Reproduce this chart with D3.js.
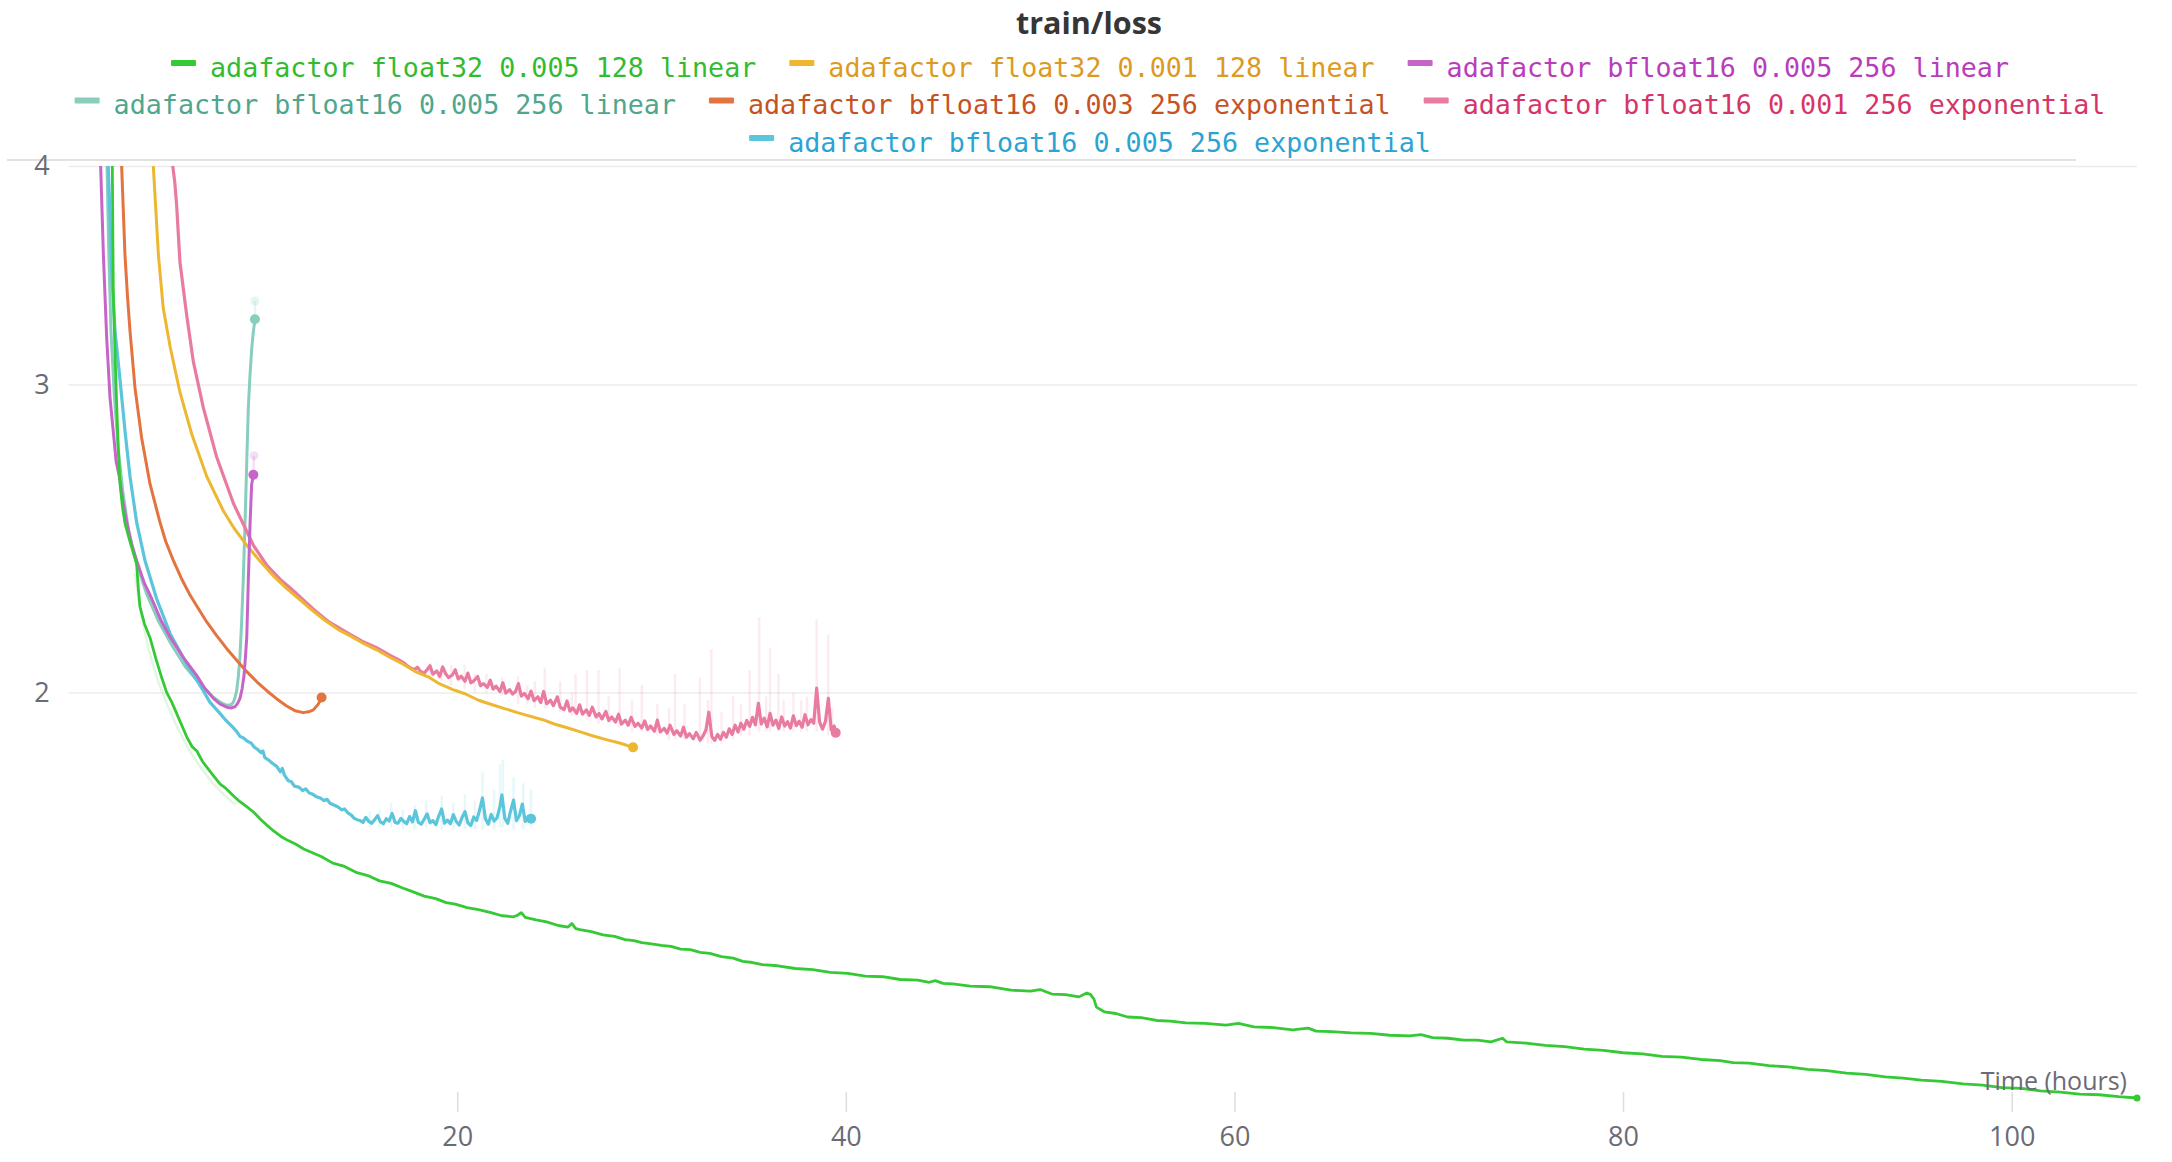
<!DOCTYPE html>
<html><head><meta charset="utf-8">
<script src="https://d3js.org/d3.v7.min.js"></script>
<style>body{margin:0;background:#fff;} svg{display:block;}</style>
</head><body>
<svg id="chart" width="2172" height="1162"></svg>
<script>
const chartTitle = "train/loss";
const xLabel = "Time (hours)";
const seriesNames = [
  "adafactor float32 0.005 128 linear",
  "adafactor float32 0.001 128 linear",
  "adafactor bfloat16 0.005 256 linear",
  "adafactor bfloat16 0.005 256 linear",
  "adafactor bfloat16 0.003 256 exponential",
  "adafactor bfloat16 0.001 256 exponential",
  "adafactor bfloat16 0.005 256 exponential"
];
const lineColors = ["#35c935", "#edb732", "#c565c7", "#87cebf", "#e4743f", "#e87b9f", "#5bc5db"];
const textColors = ["#32bb32", "#dc9a1e", "#b83dbb", "#4fa68e", "#c6531f", "#d63468", "#2ba3d3"];
const xTicks = [20, 40, 60, 80, 100];
const yTicks = [2, 3, 4];
const legendRows = [[0, 1, 2], [3, 4, 5], [6]];
const drawOrder = [3, 5, 1, 4, 6, 2, 0];

// [hours, loss]
const greenRun = [[2.18,4.40],[2.25,4.00],[2.30,3.39],[2.40,3.10],[2.48,2.91],[2.56,2.75],[2.65,2.63],[2.78,2.55],[2.90,2.50],[3.16,2.44],[3.35,2.40],[3.50,2.37],[3.58,2.30],[3.67,2.24],[3.90,2.19],[4.19,2.15],[4.50,2.09],[4.79,2.04],[5.05,2.00],[5.31,1.975],[5.70,1.93],[6.08,1.887],[6.35,1.863],[6.60,1.852],[6.90,1.826],[7.20,1.808],[7.48,1.791],[7.80,1.773],[8.10,1.763],[8.41,1.749],[8.80,1.733],[9.15,1.722],[9.54,1.708],[9.90,1.692],[10.20,1.680],[10.55,1.667],[10.93,1.655],[11.30,1.646],[11.70,1.638],[12.10,1.628],[12.55,1.620],[13.00,1.612],[13.60,1.598],[14.20,1.591],[14.84,1.578],[15.40,1.572],[16.00,1.561],[16.60,1.556],[17.16,1.547],[17.70,1.539],[18.30,1.530],[18.90,1.525],[19.43,1.517],[19.90,1.514],[20.50,1.507],[21.10,1.503],[21.74,1.497],[22.30,1.491],[22.90,1.489],[23.10,1.492],[23.30,1.497],[23.50,1.488],[24.06,1.483],[24.60,1.479],[25.20,1.472],[25.70,1.469],[25.90,1.476],[26.10,1.466],[26.32,1.464],[26.90,1.460],[27.50,1.454],[28.10,1.451],[28.64,1.445],[29.10,1.443],[29.50,1.439],[30.00,1.437],[30.50,1.434],[31.00,1.432],[31.50,1.427],[32.00,1.426],[32.50,1.421],[33.00,1.419],[33.60,1.413],[34.20,1.410],[34.70,1.404],[35.20,1.402],[35.70,1.398],[36.50,1.396],[37.40,1.391],[38.30,1.389],[39.20,1.384],[40.10,1.382],[41.00,1.377],[41.90,1.376],[42.80,1.371],[43.70,1.370],[44.30,1.366],[44.60,1.369],[45.00,1.364],[45.50,1.363],[46.40,1.359],[47.40,1.358],[48.50,1.352],[49.50,1.350],[50.00,1.353],[50.60,1.345],[51.30,1.344],[52.00,1.340],[52.40,1.347],[52.60,1.344],[52.77,1.336],[52.90,1.322],[53.30,1.314],[53.90,1.311],[54.50,1.305],[55.20,1.304],[56.00,1.299],[56.70,1.298],[57.50,1.295],[58.50,1.294],[59.57,1.291],[60.20,1.294],[61.00,1.288],[62.00,1.287],[63.00,1.283],[63.80,1.286],[64.20,1.281],[65.00,1.280],[66.00,1.278],[67.00,1.277],[68.00,1.274],[69.00,1.273],[69.60,1.275],[70.20,1.270],[71.00,1.269],[71.80,1.266],[72.50,1.266],[73.20,1.263],[73.80,1.269],[74.00,1.263],[75.00,1.261],[76.00,1.257],[77.00,1.255],[78.00,1.251],[79.00,1.249],[80.00,1.245],[81.00,1.243],[82.00,1.239],[83.00,1.238],[84.00,1.234],[85.00,1.232],[85.66,1.229],[86.50,1.228],[87.50,1.224],[88.50,1.222],[89.50,1.218],[90.50,1.216],[91.50,1.212],[92.50,1.210],[93.50,1.206],[94.40,1.204],[95.35,1.201],[96.40,1.199],[97.50,1.195],[98.50,1.193],[99.50,1.189],[100.50,1.188],[101.50,1.184],[102.50,1.182],[103.50,1.179],[104.50,1.178],[105.50,1.175],[106.45,1.173]];

const yellowRun = [[4.30,4.40],[4.36,4.00],[4.62,3.561],[4.87,3.318],[5.22,3.155],[5.73,2.970],[6.34,2.810],[7.11,2.658],[7.96,2.541],[8.55,2.480],[9.17,2.428],[9.85,2.378],[10.54,2.332],[11.20,2.295],[11.91,2.260],[12.60,2.226],[13.20,2.199],[13.88,2.173],[14.50,2.155],[15.20,2.133],[15.85,2.116],[16.50,2.096],[17.20,2.077],[17.82,2.057],[18.50,2.042],[19.10,2.023],[19.78,2.008],[20.40,1.997],[21.10,1.980],[21.76,1.969],[22.40,1.959],[23.10,1.948],[23.73,1.939],[24.40,1.930],[25.00,1.919],[25.70,1.909],[26.30,1.900],[27.00,1.889],[27.67,1.880],[28.40,1.871],[29.05,1.861]];

const magentaRun = [[1.60,4.40],[1.65,4.00],[1.79,3.56],[1.96,3.19],[2.13,2.95],[2.30,2.82],[2.45,2.71],[2.61,2.658],[2.80,2.57],[2.99,2.503],[3.25,2.43],[3.50,2.38],[3.90,2.31],[4.28,2.263],[4.75,2.20],[5.22,2.152],[5.90,2.095],[6.59,2.046],[7.00,2.012],[7.45,1.985],[7.80,1.970],[8.14,1.962],[8.35,1.960],[8.56,1.963],[8.70,1.972],[8.82,1.985],[8.93,2.010],[9.03,2.046],[9.10,2.095],[9.17,2.152],[9.25,2.32],[9.34,2.50],[9.42,2.63],[9.51,2.664]];

const tealRun = [[1.92,4.40],[1.98,4.00],[2.06,3.60],[2.18,3.22],[2.35,2.96],[2.55,2.76],[2.80,2.60],[3.10,2.47],[3.50,2.37],[4.00,2.28],[4.60,2.20],[5.30,2.13],[6.00,2.07],[6.80,2.020],[7.40,1.990],[7.80,1.975],[8.14,1.967],[8.35,1.968],[8.48,1.975],[8.57,1.988],[8.65,2.005],[8.74,2.045],[8.82,2.098],[8.90,2.190],[8.99,2.322],[9.05,2.44],[9.11,2.566],[9.18,2.74],[9.25,2.911],[9.33,3.03],[9.42,3.14],[9.50,3.21],[9.59,3.269]];

const redRun = [[2.66,4.40],[2.73,4.00],[2.90,3.561],[3.03,3.37],[3.16,3.22],[3.42,2.985],[3.76,2.796],[4.19,2.632],[4.70,2.503],[5.00,2.44],[5.39,2.380],[5.80,2.325],[6.25,2.274],[6.70,2.232],[7.11,2.195],[7.60,2.157],[8.14,2.119],[8.65,2.087],[9.17,2.056],[9.70,2.028],[10.20,2.005],[10.70,1.984],[11.22,1.965],[11.65,1.953],[12.08,1.948],[12.35,1.950],[12.60,1.955],[12.85,1.970],[13.02,1.987]];

const pinkRun = [[5.30,4.40],[5.36,4.00],[5.46,3.92],[5.56,3.80],[5.73,3.525],[6.08,3.285],[6.42,3.092],[6.93,2.911],[7.62,2.727],[8.48,2.566],[9.51,2.428],[10.20,2.365],[10.88,2.322],[11.70,2.280],[12.60,2.232],[13.40,2.195],[14.31,2.165],[15.10,2.140],[15.85,2.122],[16.50,2.102],[17.00,2.088],
[17.25,2.080],[17.45,2.071],[17.60,2.066],[17.80,2.061],[17.95,2.068],[18.10,2.057],[18.30,2.052],[18.45,2.061],[18.60,2.072],[18.75,2.049],[18.95,2.058],[19.10,2.043],[19.25,2.069],[19.40,2.051],[19.55,2.040],[19.75,2.047],[19.90,2.061],[20.05,2.036],[20.20,2.044],[20.40,2.030],[20.55,2.052],[20.70,2.026],[20.85,2.031],[21.05,2.043],[21.20,2.018],[21.35,2.024],[21.55,2.014],[21.70,2.033],[21.85,2.009],[22.00,2.017],[22.20,2.003],[22.35,2.026],[22.50,1.999],[22.70,2.008],[22.85,1.996],[23.00,2.003],[23.15,2.024],[23.30,1.991],[23.45,1.998],[23.65,1.984],[23.80,2.004],[23.95,1.979],[24.15,1.989],[24.30,1.974],[24.45,2.003],[24.60,1.971],[24.80,1.980],[24.95,1.966],[25.15,1.989],[25.30,1.962],[25.50,1.956],[25.65,1.978],[25.80,1.952],[25.95,1.960],[26.15,1.946],[26.30,1.968],[26.45,1.944],[26.65,1.955],[26.80,1.941],[26.95,1.962],[27.15,1.937],[27.30,1.946],[27.45,1.932],[27.65,1.951],[27.80,1.928],[27.95,1.937],[28.15,1.924],[28.30,1.944],[28.45,1.919],[28.65,1.929],[28.80,1.916],[28.95,1.936],[29.15,1.913],[29.30,1.921],[29.50,1.909],[29.65,1.927],[29.80,1.905],[29.95,1.914],[30.15,1.901],[30.30,1.929],[30.45,1.899],[30.65,1.908],[30.80,1.896],[30.95,1.916],[31.15,1.893],[31.30,1.902],[31.50,1.889],[31.65,1.911],[31.80,1.886],[31.95,1.895],[32.15,1.882],[32.30,1.898],[32.50,1.879],[32.65,1.889],[32.80,1.904],[32.95,1.949],[33.10,1.888],[33.25,1.878],[33.40,1.893],[33.55,1.881],[33.70,1.898],[33.85,1.886],[34.00,1.907],[34.15,1.893],[34.30,1.916],[34.45,1.899],[34.60,1.921],[34.75,1.906],[34.90,1.928],[35.05,1.913],[35.20,1.936],[35.35,1.917],[35.50,1.972],[35.65,1.919],[35.80,1.934],[35.95,1.912],[36.10,1.946],[36.25,1.916],[36.40,1.929],[36.55,1.908],[36.70,1.937],[36.85,1.914],[37.00,1.925],[37.15,1.909],[37.30,1.940],[37.45,1.915],[37.60,1.926],[37.75,1.911],[37.90,1.943],[38.05,1.917],[38.20,1.930],[38.35,1.921],[38.50,2.012],[38.65,1.924],[38.80,1.906],[38.95,1.925],[39.10,1.985],[39.25,1.904],[39.40,1.914],[39.48,1.897]];

const cyanRun = [[1.98,4.40],[2.04,4.00],[2.13,3.745],[2.22,3.472],[2.39,3.22],[2.65,3.016],[2.90,2.824],[3.16,2.658],[3.50,2.503],[3.93,2.38],[4.53,2.263],[5.22,2.162],[6.08,2.077],[6.93,2.005],[7.27,1.975],[7.50,1.962],[7.79,1.946],[8.10,1.928],[8.41,1.913],[8.62,1.902],[8.82,1.888],[9.00,1.884],[9.20,1.876],[9.38,1.872],[9.55,1.862],[9.75,1.855],[9.90,1.848],[10.00,1.852],[10.10,1.836],[10.30,1.830],[10.50,1.822],[10.71,1.815],[10.90,1.802],[11.00,1.810],[11.10,1.795],[11.30,1.781],[11.45,1.779],[11.63,1.768],[11.85,1.766],[12.05,1.758],[12.20,1.762],[12.40,1.752],[12.55,1.750],[12.75,1.744],[12.95,1.741],[13.15,1.735],[13.30,1.738],[13.45,1.729],[13.65,1.725],[13.85,1.721],[14.05,1.714],[14.20,1.716],[14.38,1.707],[14.55,1.702],[14.70,1.695],[14.84,1.692],
[15.00,1.690],[15.15,1.686],[15.30,1.697],[15.45,1.688],[15.60,1.684],[15.75,1.692],[15.90,1.701],[16.05,1.687],[16.20,1.683],[16.35,1.694],[16.50,1.689],[16.65,1.706],[16.80,1.686],[16.95,1.684],[17.10,1.695],[17.25,1.688],[17.40,1.683],[17.55,1.699],[17.70,1.687],[17.85,1.712],[18.00,1.686],[18.15,1.682],[18.30,1.693],[18.45,1.705],[18.60,1.685],[18.75,1.690],[18.90,1.681],[19.05,1.700],[19.20,1.716],[19.35,1.684],[19.50,1.691],[19.65,1.683],[19.80,1.703],[19.95,1.688],[20.10,1.680],[20.25,1.697],[20.40,1.710],[20.55,1.685],[20.70,1.679],[20.85,1.698],[21.00,1.690],[21.15,1.713],[21.30,1.741],[21.45,1.694],[21.60,1.682],[21.75,1.704],[21.90,1.689],[22.05,1.696],[22.20,1.722],[22.30,1.748],[22.45,1.695],[22.60,1.684],[22.75,1.712],[22.90,1.736],[23.05,1.690],[23.20,1.701],[23.35,1.727],[23.50,1.688],[23.65,1.699],[23.80,1.694]];

const runs = [greenRun, yellowRun, magentaRun, tealRun, redRun, pinkRun, cyanRun];

// faint raw traces: [hours, low, high]
const pinkSpikes = [[18.60,2.04,2.08],[19.20,2.03,2.07],[19.69,2.02,2.075],[20.38,2.01,2.075],[20.90,2.00,2.05],[21.50,2.00,2.05],[22.30,1.99,2.04],[23.13,1.97,2.043],[23.60,1.97,2.02],[24.00,1.96,2.03],[24.51,1.96,2.067],[25.30,1.95,2.03],[25.90,1.94,2.00],[26.09,1.94,2.05],[26.68,1.93,2.06],[27.27,1.92,2.06],[27.80,1.92,1.99],[28.36,1.91,2.067],[29.00,1.90,1.98],[29.50,1.90,2.02],[30.30,1.89,1.97],[30.90,1.88,1.96],[31.21,1.88,2.05],[31.70,1.88,1.97],[32.49,1.87,2.04],[32.90,1.87,1.98],[33.08,1.87,2.118],[33.60,1.87,1.95],[34.20,1.88,1.99],[34.60,1.89,1.97],[35.05,1.89,2.06],[35.54,1.90,2.209],[35.90,1.90,1.99],[36.10,1.90,2.122],[36.53,1.90,2.05],[36.80,1.90,1.98],[37.30,1.90,2.00],[37.70,1.90,1.98],[38.00,1.90,1.99],[38.50,1.90,2.203],[39.09,1.89,2.158],[39.30,1.89,1.96]];
const cyanSpikes = [[15.50,1.675,1.71],[16.00,1.675,1.715],[16.60,1.675,1.73],[17.20,1.672,1.715],[17.80,1.67,1.725],[18.40,1.675,1.735],[19.20,1.67,1.745],[19.80,1.67,1.73],[20.40,1.67,1.75],[20.90,1.67,1.735],[21.30,1.67,1.80],[21.90,1.67,1.76],[22.20,1.675,1.82],[22.35,1.675,1.83],[22.90,1.67,1.79],[23.40,1.67,1.775],[23.80,1.675,1.76]];
const greenRaw = [[3.40,2.34],[3.70,2.23],[4.10,2.12],[4.60,2.03],[5.10,1.965],[5.60,1.91],[6.20,1.855],[6.80,1.812],[7.40,1.776],[8.00,1.748],[8.60,1.725]];
// raw last points (series index, hours, loss)
const rawLast = [[3, 9.59, 3.349], [2, 9.54, 2.732]];

const svg = d3.select("#chart");
const x = d3.scaleLinear().domain([0, 106.45]).range([68.6, 2137]);
const y = d3.scaleLog().domain([1.173, 4]).range([1098, 166]);

// title
svg.append("text").attr("x", 1089).attr("y", 34).attr("text-anchor", "middle")
  .attr("font-family", "'Open Sans', sans-serif").attr("font-weight", 700).attr("font-size", 30.5)
  .attr("fill", "#363636").text(chartTitle);

// legend
const legend = svg.append("g");
const rowBase = [76.5, 114, 151.5];
legendRows.forEach((row, ri) => {
  const g = legend.append("g");
  let cx = 0;
  row.forEach((si, k) => {
    const item = g.append("g").attr("transform", `translate(${cx},0)`);
    item.append("rect").attr("x", 0).attr("y", rowBase[ri] - 16.5).attr("width", 25).attr("height", 6)
      .attr("rx", 1).attr("fill", lineColors[si]);
    const t = item.append("text").attr("x", 39).attr("y", rowBase[ri])
      .attr("font-family", "'DejaVu Sans Mono', monospace").attr("font-size", 26.7)
      .attr("fill", textColors[si]).text(seriesNames[si]);
    cx += 39 + t.node().getComputedTextLength() + (k < row.length - 1 ? 33 : 0);
  });
  g.attr("transform", `translate(${1090 - cx / 2},0)`);
});

// divider under legend
svg.append("line").attr("x1", 7).attr("x2", 2076).attr("y1", 160).attr("y2", 160)
  .attr("stroke", "#e2e2e2").attr("stroke-width", 2);

// y axis with gridlines
const yAxis = d3.axisLeft(y).tickValues(yTicks).tickFormat(d3.format("d"))
  .tickSizeInner(-(2137 - 68.6)).tickSizeOuter(0).tickPadding(19);
const yg = svg.append("g").attr("transform", "translate(68.6,0)").call(yAxis);
yg.select(".domain").remove();
yg.selectAll(".tick line").attr("stroke", "#ececec").attr("stroke-width", 1.5);
yg.selectAll(".tick text").attr("font-family", "'Open Sans', sans-serif").attr("font-size", 27).attr("fill", "#6b6b76");

// x axis
const xAxis = d3.axisBottom(x).tickValues(xTicks).tickFormat(d3.format("d"))
  .tickSizeInner(20).tickSizeOuter(0).tickPadding(15);
const xg = svg.append("g").attr("transform", "translate(0,1092)").call(xAxis);
xg.select(".domain").remove();
xg.selectAll(".tick line").attr("stroke", "#dddddd").attr("stroke-width", 1.5);
xg.selectAll(".tick text").attr("font-family", "'Open Sans', sans-serif").attr("font-size", 27).attr("fill", "#6b6b76");

// clip
svg.append("clipPath").attr("id", "plotclip").append("rect")
  .attr("x", 60).attr("y", 166).attr("width", 2100).attr("height", 945);
const plot = svg.append("g").attr("clip-path", "url(#plotclip)");
const line = d3.line().x(d => x(d[0])).y(d => y(d[1]));

// faint raw traces
plot.append("path").datum(greenRaw).attr("d", line).attr("fill", "none")
  .attr("stroke", lineColors[0]).attr("stroke-opacity", 0.15).attr("stroke-width", 2.5);
plot.selectAll(".pspike").data(pinkSpikes).join("line")
  .attr("x1", d => x(d[0])).attr("x2", d => x(d[0])).attr("y1", d => y(d[1])).attr("y2", d => y(d[2]))
  .attr("stroke", lineColors[5]).attr("stroke-opacity", 0.14).attr("stroke-width", 2.5);
plot.selectAll(".cspike").data(cyanSpikes).join("line")
  .attr("x1", d => x(d[0])).attr("x2", d => x(d[0])).attr("y1", d => y(d[1])).attr("y2", d => y(d[2]))
  .attr("stroke", lineColors[6]).attr("stroke-opacity", 0.14).attr("stroke-width", 2.5);
rawLast.forEach(r => {
  const last = runs[r[0]][runs[r[0]].length - 1];
  plot.append("line").attr("x1", x(last[0])).attr("x2", x(r[1])).attr("y1", y(last[1])).attr("y2", y(r[2]))
    .attr("stroke", lineColors[r[0]]).attr("stroke-opacity", 0.2).attr("stroke-width", 2.5);
  svg.append("circle").attr("cx", x(r[1])).attr("cy", y(r[2])).attr("r", 4.5)
    .attr("fill", lineColors[r[0]]).attr("fill-opacity", 0.2);
});

// main lines
const widths = [2.8, 3, 3, 3, 3, 3.2, 3.2];
drawOrder.forEach(si => {
  plot.append("path").datum(runs[si]).attr("d", line).attr("fill", "none")
    .attr("stroke", lineColors[si]).attr("stroke-width", widths[si]).attr("stroke-linejoin", "round");
});
// end dots
drawOrder.forEach(si => {
  const last = runs[si][runs[si].length - 1];
  svg.append("circle").attr("cx", x(last[0])).attr("cy", y(last[1])).attr("r", si === 0 ? 3.5 : 5)
    .attr("fill", lineColors[si]);
});

// x label
svg.append("text").attr("x", 2127).attr("y", 1090).attr("text-anchor", "end")
  .attr("font-family", "'Open Sans', sans-serif").attr("font-size", 25).attr("fill", "#6b6b76")
  .text(xLabel);
</script>
</body></html>
